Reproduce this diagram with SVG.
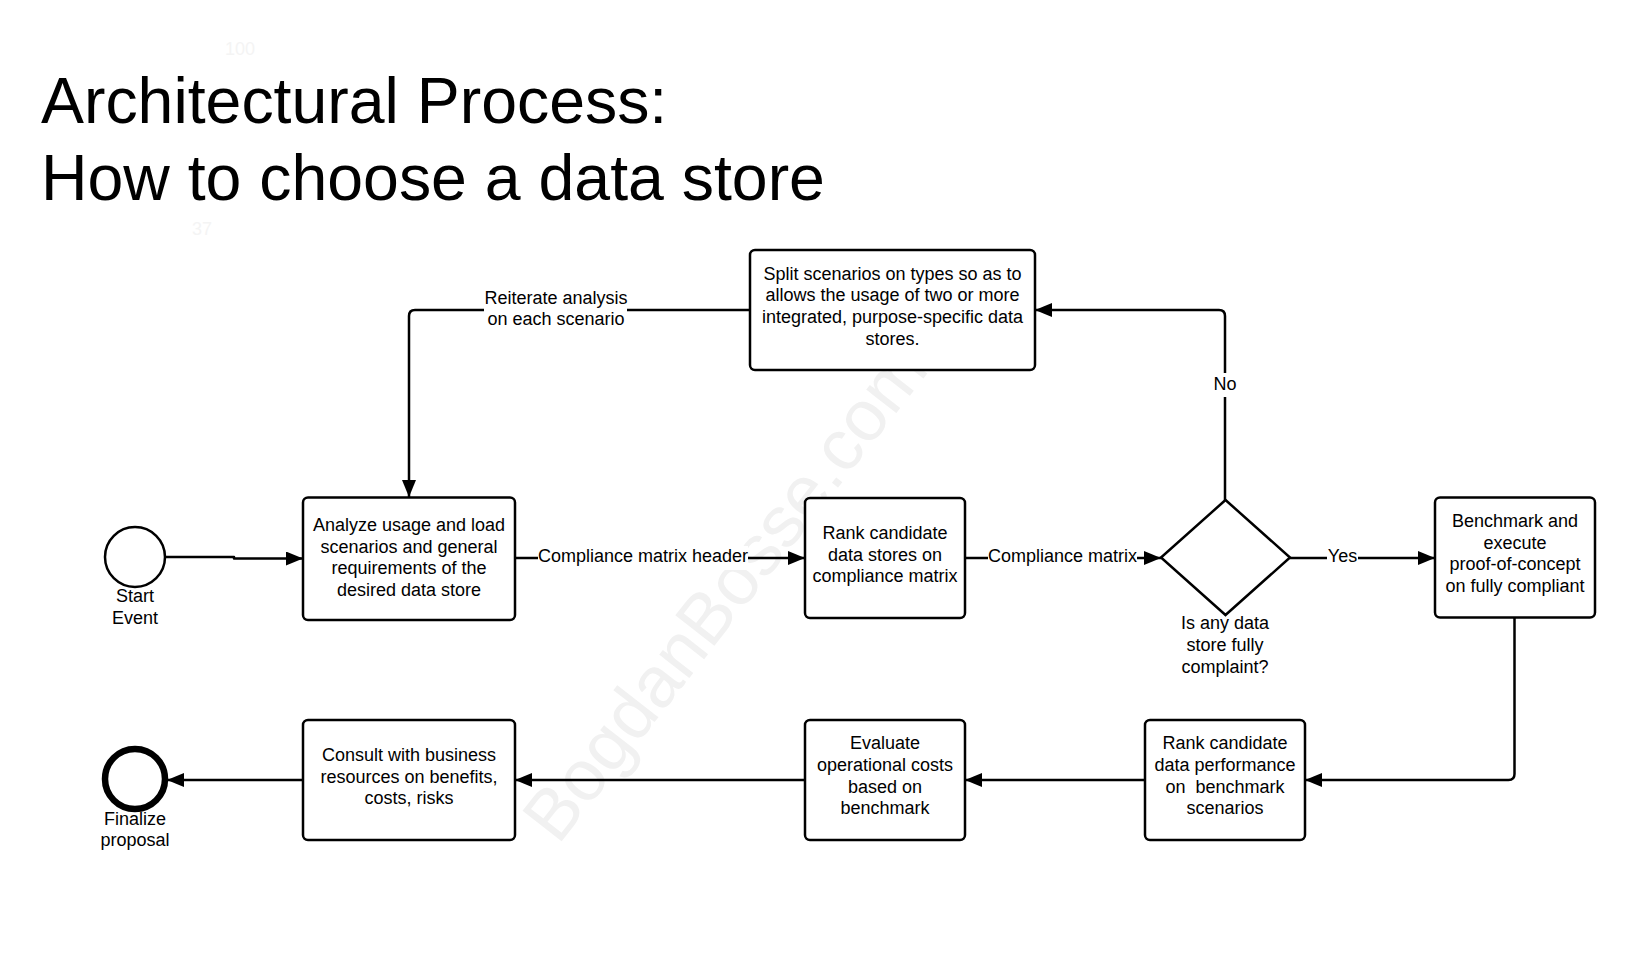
<svg xmlns="http://www.w3.org/2000/svg" width="1635" height="974" viewBox="0 0 1635 974">
<style>
text{font-family:"Liberation Sans",Arial,sans-serif;fill:#000}
.t{font-size:18px;text-anchor:middle}
.n{fill:#fff;stroke:#000;stroke-width:2.5}
.c{fill:none;stroke:#000;stroke-width:2.5;stroke-linejoin:round}
.lb{fill:#fff;stroke:none}
.title{font-size:64.4px}
.f{fill:#f4f4f4;font-size:18px}
.w{fill:#f1f1f1;font-size:72px}
</style>
<defs>
<marker id="a" markerUnits="userSpaceOnUse" markerWidth="17" markerHeight="14" refX="17" refY="7" orient="auto"><path d="M0 0L17 7L0 14Z" fill="#000"/></marker>
</defs>
<rect width="1635" height="974" fill="#fff"/>
<text class="f" x="225" y="55">100</text>
<text class="f" x="192" y="235">37</text>
<text class="w" x="0" y="0" transform="translate(558 846) rotate(-52)">BogdanBosse.com</text>
<g id="title"><text class="title" x="41" y="122.5">Architectural Process:</text><text class="title" x="41" y="200">How to choose a data store</text></g>
<g id="start"><circle class="n" cx="135" cy="557" r="30"/><text class="t" x="135" y="602">Start<tspan x="135" y="623.5">Event</tspan></text></g>
<g id="analyze"><rect class="n" x="303" y="497.5" width="212" height="122.5" rx="5"/><text class="t" x="409" y="531">Analyze usage and load<tspan x="409" y="553">scenarios and general</tspan><tspan x="409" y="574">requirements of the</tspan><tspan x="409" y="596">desired data store</tspan></text></g>
<g id="split"><rect class="n" x="750" y="250" width="285" height="120" rx="5"/><text class="t" x="892.5" y="280">Split scenarios on types so as to<tspan x="892.5" y="301">allows the usage of two or more</tspan><tspan x="892.5" y="323">integrated, purpose-specific data</tspan><tspan x="892.5" y="344.5">stores.</tspan></text></g>
<g id="rank"><rect class="n" x="805" y="498" width="160" height="120" rx="5"/><text class="t" x="885" y="539">Rank candidate<tspan x="885" y="560.5">data stores on</tspan><tspan x="885" y="582">compliance matrix</tspan></text></g>
<g id="decision"><path class="n" d="M1225.5 500L1290 557.5L1225.5 615L1161 557.5Z"/><text class="t" x="1225" y="629">Is any data<tspan x="1225" y="651">store fully</tspan><tspan x="1225" y="672.5">complaint?</tspan></text></g>
<g id="benchmark"><rect class="n" x="1435" y="497.5" width="160" height="120" rx="5"/><text class="t" x="1515" y="527">Benchmark and<tspan x="1515" y="549">execute</tspan><tspan x="1515" y="570">proof-of-concept</tspan><tspan x="1515" y="592">on fully compliant</tspan></text></g>
<g id="rankperf"><rect class="n" x="1145" y="720" width="160" height="120" rx="5"/><text class="t" x="1225" y="749">Rank candidate<tspan x="1225" y="771">data performance</tspan><tspan x="1225" y="792.5" xml:space="preserve">on  benchmark</tspan><tspan x="1225" y="814">scenarios</tspan></text></g>
<g id="evaluate"><rect class="n" x="805" y="720" width="160" height="120" rx="5"/><text class="t" x="885" y="749">Evaluate<tspan x="885" y="771">operational costs</tspan><tspan x="885" y="792.5">based on</tspan><tspan x="885" y="814">benchmark</tspan></text></g>
<g id="consult"><rect class="n" x="303" y="720" width="212" height="120" rx="5"/><text class="t" x="409" y="761">Consult with business<tspan x="409" y="782.5">resources on benefits,</tspan><tspan x="409" y="804">costs, risks</tspan></text></g>
<g id="finish"><circle cx="135" cy="779" r="30" fill="#fff" stroke="#000" stroke-width="6.5"/></g>
<g id="connectors">
<path class="c" d="M165 557H234V558.5H303" marker-end="url(#a)"/>
<path class="c" d="M515 558H805" marker-end="url(#a)"/>
<path class="c" d="M965 558H1161" marker-end="url(#a)"/>
<path class="c" d="M1290 558H1435" marker-end="url(#a)"/>
<path class="c" d="M1225 500V316Q1225 310 1219 310H1035" marker-end="url(#a)"/>
<path class="c" d="M750 310H415Q409 310 409 316V497" marker-end="url(#a)"/>
<path class="c" d="M1514.5 618V774Q1514.5 780 1508.5 780H1305" marker-end="url(#a)"/>
<path class="c" d="M1145 780H965" marker-end="url(#a)"/>
<path class="c" d="M805 780H515" marker-end="url(#a)"/>
<path class="c" d="M303 780H167" marker-end="url(#a)"/>
</g>
<g id="labels">
<rect class="lb" x="484" y="288" width="143" height="44"/><text class="t" x="556" y="304">Reiterate analysis<tspan x="556" y="325">on each scenario</tspan></text>
<rect class="lb" x="1214" y="373" width="24" height="24"/><text class="t" x="1225" y="390">No</text>
<rect class="lb" x="538" y="546" width="210" height="24"/><text class="t" x="643" y="562">Compliance matrix header</text>
<rect class="lb" x="988" y="546" width="149" height="24"/><text class="t" x="1062.5" y="562">Compliance matrix</text>
<rect class="lb" x="1327" y="546" width="31" height="24"/><text class="t" x="1342.5" y="562">Yes</text>
<text class="t" x="135" y="825">Finalize<tspan x="135" y="846">proposal</tspan></text>
</g>
</svg>
